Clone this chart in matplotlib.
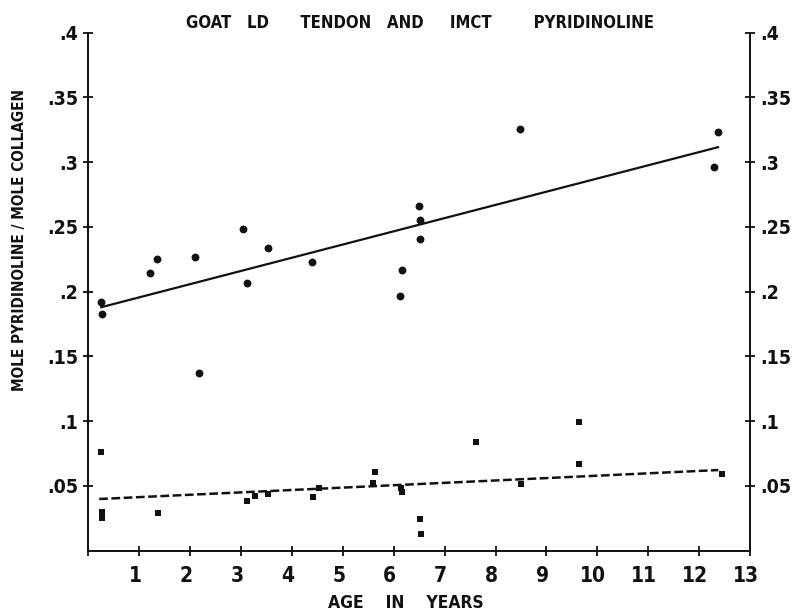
"""
Goat LD tendon and IMCT pyridinoline vs age (replot of scanned figure).
"""

import numpy as np
import matplotlib
matplotlib.use("Agg")
import matplotlib.pyplot as plt
from matplotlib.transforms import ScaledTranslation

# =========================================================
# Data
# =========================================================
# tendon (filled circles)
TENDON_AGE = [0.25, 0.27, 1.20, 1.35, 2.10, 2.18, 3.03, 3.12, 3.52, 4.40,
              6.12, 6.17, 6.50, 6.51, 6.52, 8.48, 12.37, 12.29]
TENDON_PYR = [0.192, 0.183, 0.214, 0.225, 0.227, 0.137, 0.248, 0.207, 0.234,
              0.223, 0.197, 0.217, 0.266, 0.255, 0.241, 0.326, 0.323, 0.296]

# IMCT (filled squares)
IMCT_AGE = [0.25, 0.27, 0.27, 1.36, 3.12, 3.27, 3.53, 4.42, 4.53, 5.63,
            5.60, 6.14, 6.17, 6.51, 6.53, 7.61, 8.50, 9.63, 9.63, 12.44]
IMCT_PYR = [0.076, 0.030, 0.025, 0.029, 0.038, 0.042, 0.044, 0.041, 0.048,
            0.061, 0.052, 0.048, 0.045, 0.024, 0.013, 0.084, 0.051, 0.099,
            0.067, 0.059]

# fitted lines as drawn: (intercept, slope)
TENDON_FIT = (0.1854, 0.0102)
IMCT_FIT = (0.0394, 0.00184)

X_TICKS = list(range(0, 14))
X_TICK_LABELS = [""] + [str(i) for i in range(1, 14)]
Y_TICKS = [0.05, 0.10, 0.15, 0.20, 0.25, 0.30, 0.35, 0.40]
Y_TICK_LABELS = [".05", ".1", ".15", ".2", ".25", ".3", ".35", ".4"]

TITLE = "GOAT   LD      TENDON   AND     IMCT        PYRIDINOLINE"
YLABEL = "MOLE PYRIDINOLINE / MOLE COLLAGEN"
XLABEL = "AGE    IN    YEARS"

FONT = dict(family=["DejaVu Sans"], weight="bold", stretch="condensed")
INK = "#111111"

# =========================================================
# Plot
# =========================================================
fig = plt.figure(figsize=(7.98, 6.14), dpi=100)
ax = fig.add_axes([0.1109, 0.1034, 0.829, 0.8433])

ax.set_xlim(0, 13)
ax.set_ylim(0, 0.4)

ax.scatter(TENDON_AGE, TENDON_PYR, s=32, marker="o", color=INK,
           linewidths=0, zorder=3)
ax.scatter(IMCT_AGE, IMCT_PYR, s=15, marker="s", color=INK,
           linewidths=0, zorder=3)

xs = np.array([min(TENDON_AGE), max(TENDON_AGE)])
ax.plot(xs, TENDON_FIT[0] + TENDON_FIT[1] * xs, color=INK, lw=1.6)

xs = np.array([min(IMCT_AGE) - 0.04, max(IMCT_AGE) - 0.06])
ax.plot(xs, IMCT_FIT[0] + IMCT_FIT[1] * xs, color=INK, lw=1.8,
        ls=(0, (3.5, 1.4)))

# ----- frame: left, bottom, right -----
ax.spines["top"].set_visible(False)
for side in ("left", "bottom", "right"):
    ax.spines[side].set_linewidth(1.4)
    ax.spines[side].set_color(INK)

ax.set_xticks(X_TICKS)
ax.set_xticklabels(X_TICK_LABELS, fontsize=15, **FONT)
ax.set_yticks(Y_TICKS)
ax.set_yticklabels(Y_TICK_LABELS, fontsize=14, **FONT)

ax.tick_params(axis="both", direction="inout", length=7, width=1.3,
               color=INK, labelcolor=INK)
ax.tick_params(axis="x", pad=8)
ax.tick_params(axis="y", pad=4, right=True, labelright=True)

# x labels sit a little left of their ticks in the original
shift = ScaledTranslation(-4 / 100, 0, fig.dpi_scale_trans)
for lab in ax.get_xticklabels():
    lab.set_transform(lab.get_transform() + shift)

# title and axis labels
fig.text(0.526, 0.962, TITLE, ha="center", va="center", fontsize=12,
         color=INK, **FONT)
fig.text(0.024, 0.609, YLABEL, ha="center", va="center", rotation=90,
         fontsize=11, color=INK, **FONT)
fig.text(0.509, 0.018, XLABEL, ha="center", va="center", fontsize=12.5,
         color=INK, **FONT)

plt.savefig("out.png", dpi=100)
